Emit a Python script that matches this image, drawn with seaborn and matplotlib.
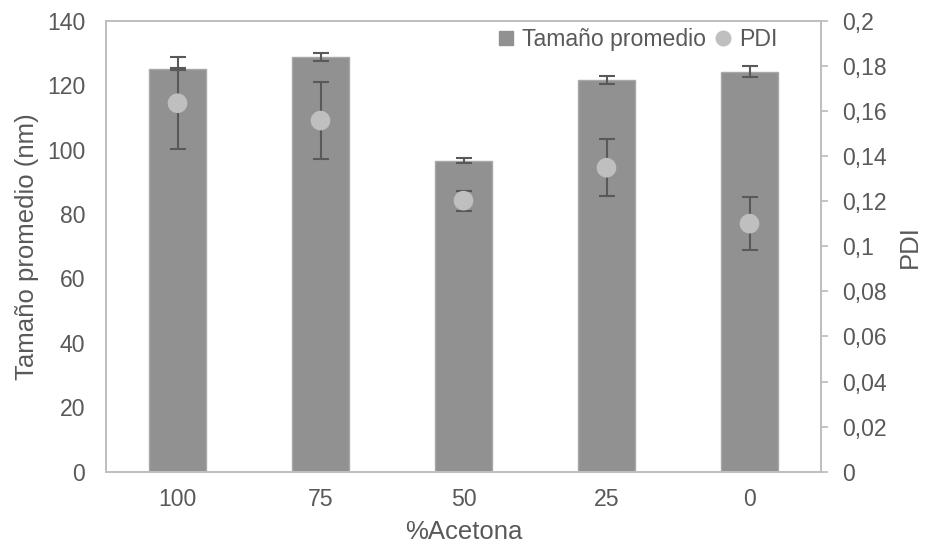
import numpy as np
import pandas as pd
import matplotlib
matplotlib.use("Agg")
import matplotlib.pyplot as plt
from matplotlib.lines import Line2D
from matplotlib.ticker import FuncFormatter, MultipleLocator
import seaborn as sns

# ---- data ----
categories = ["100", "75", "50", "25", "0"]
size_mean = [125.0, 128.7, 96.5, 121.6, 124.2]
size_err_low = [0.2, 1.35, 0.8, 1.2, 1.65]
size_err_high = [3.8, 1.35, 0.8, 1.2, 1.65]
pdi_mean = [0.1634, 0.1557, 0.1202, 0.1348, 0.1100]
pdi_err_low = [0.0204, 0.0170, 0.0045, 0.0124, 0.0115]
pdi_err_high = [0.0156, 0.0170, 0.0043, 0.0126, 0.0118]

TEXT = "#595959"
AXIS = "#bfbfbf"
BAR = "#919191"
BAR_EDGE = "#a8a8a8"
PDI_C = "#bfbfbf"
ERR = "#595959"

sns.set_theme(style="white")
plt.rcParams["font.family"] = ["Liberation Sans", "DejaVu Sans"]
plt.rcParams["text.color"] = TEXT
plt.rcParams["axes.labelcolor"] = TEXT
plt.rcParams["xtick.color"] = TEXT
plt.rcParams["ytick.color"] = TEXT

fig = plt.figure(figsize=(9.25, 5.52), dpi=100)
ax = fig.add_axes([106 / 925, 1 - 471.7 / 552, (821 - 106) / 925, (471.7 - 20.7) / 552])

df = pd.DataFrame({"cat": categories, "size": size_mean})
sns.barplot(data=df, x="cat", y="size", order=categories, color=BAR, width=0.4,
            saturation=1, errorbar=None, ax=ax, edgecolor=BAR_EDGE, linewidth=1, zorder=2)
pos = np.arange(len(categories))
ax.errorbar(pos, size_mean, yerr=[size_err_low, size_err_high], fmt="none",
            ecolor=ERR, elinewidth=1.5, capsize=6, capthick=1.5, zorder=3)

ax.set_ylim(0, 140)
ax.yaxis.set_major_locator(MultipleLocator(20))
ax.set_xlim(-0.5, len(categories) - 0.5)

ax2 = ax.twinx()
ax2.errorbar(pos, pdi_mean, yerr=[pdi_err_low, pdi_err_high], fmt="none",
             ecolor=ERR, elinewidth=1.5, capsize=6, capthick=1.5, zorder=3)
sns.scatterplot(x=pos, y=pdi_mean, ax=ax2, color=PDI_C, s=200, edgecolor="none",
                zorder=4, legend=False)
ax2.set_ylim(0, 0.2)
ax2.yaxis.set_major_locator(MultipleLocator(0.02))
ax2.yaxis.set_major_formatter(FuncFormatter(lambda v, p: ("%g" % round(v, 2)).replace(".", ",")))
ax.set_xlim(-0.5, len(categories) - 0.5)

for a in (ax, ax2):
    for s in a.spines.values():
        s.set_visible(True)
        s.set_color(AXIS)
        s.set_linewidth(1.3)

ax.tick_params(axis="y", length=0, pad=15, labelsize=16.6)
ax.tick_params(axis="x", length=0, pad=11.5, labelsize=16.6)
ax2.tick_params(axis="y", length=5, width=1.3, color=AXIS, pad=10.5, labelsize=16.6, right=True)

ax.set_xlabel("%Acetona", fontsize=18.5, labelpad=7)
ax.set_ylabel("Tamaño promedio (nm)", fontsize=18.5, labelpad=6)
ax2.set_ylabel("PDI", fontsize=18.5, labelpad=8)

handles = [
    Line2D([], [], marker="s", linestyle="none", color=BAR, markersize=10.5),
    Line2D([], [], marker="o", linestyle="none", color=PDI_C, markersize=10.5),
]
ax2.legend(handles, ["Tamaño promedio", "PDI"], loc="upper right", ncol=2,
           bbox_to_anchor=(0.965, 1.025), frameon=False, fontsize=16.6,
           handlelength=0.7, handletextpad=0.35, columnspacing=0.4, borderpad=0.3,
           labelcolor=TEXT)

fig.savefig("out.png", dpi=100)
